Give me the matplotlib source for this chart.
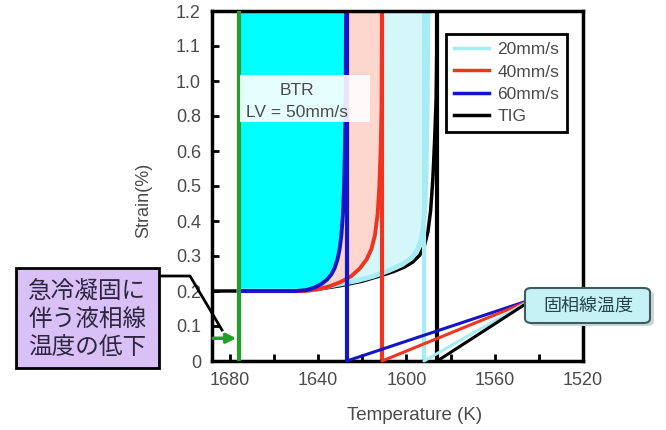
import numpy as np
import matplotlib.pyplot as plt
from matplotlib.patches import Rectangle, FancyBboxPatch
from matplotlib.lines import Line2D

plt.rcParams['font.family'] = ['Liberation Sans', 'Noto Sans CJK JP']

# strain curves: temperature (K) vs strain (%)
t_60 = [1676, 1650, 1645, 1641.5, 1638.5, 1636, 1634, 1632.5, 1631.2, 1630.2, 1629.4,
        1628.7, 1628.2, 1627.8, 1627.5, 1627.3]
s_60 = [0.2, 0.2, 0.203, 0.21, 0.22, 0.232, 0.247, 0.265, 0.29, 0.32, 0.36,
        0.42, 0.5, 0.62, 0.85, 1.2]
t_40 = [1676, 1646, 1640, 1635, 1630, 1625, 1621, 1618, 1615.8, 1614.2, 1613,
        1612.2, 1611.6, 1611.2, 1611]
s_40 = [0.2, 0.2, 0.205, 0.213, 0.225, 0.242, 0.265, 0.29, 0.32, 0.36, 0.42,
        0.5, 0.62, 0.85, 1.2]
t_20 = [1676, 1645, 1638, 1630, 1622, 1615, 1608, 1602, 1597.5, 1594.8, 1593.2,
        1592.2, 1591.5, 1591, 1590.6, 1590.2]
s_20 = [0.2, 0.2, 0.21, 0.22, 0.23, 0.242, 0.258, 0.275, 0.295, 0.32, 0.35,
        0.39, 0.45, 0.55, 0.8, 1.2]
t_tig = [1688, 1645, 1630, 1620, 1612, 1606, 1601, 1597, 1594, 1591.8, 1590.2,
         1589, 1588, 1587.2, 1586.5, 1586]
s_tig = [0.2, 0.2, 0.215, 0.228, 0.243, 0.255, 0.268, 0.283, 0.302, 0.33, 0.37,
         0.43, 0.52, 0.66, 0.9, 1.2]

# solidus temperatures (60, 40, 20 mm/s, TIG) and lowered liquidus
solidus = [1627, 1611, 1592, 1586]
liquidus = 1676

labels = ['20mm/s', '40mm/s', '60mm/s', 'TIG']
x_ticks = [1680, 1640, 1600, 1560, 1520]
y_ticks = [0, 0.1, 0.2, 0.3, 0.4, 0.5, 0.6, 0.8, 1.0, 1.1, 1.2]
y_ticklabels = ['0', '0.1', '0.2', '0.3', '0.4', '0.5', '0.6', '0.8', '1.0', '1.1', '1.2']

c20, c40, c60, ctig = '#a6ecf4', '#f0341f', '#1414c8', 'black'
green = '#22a02a'
grey = '#4a4a4a'

fig = plt.figure(figsize=(6.66, 4.30), dpi=100)
ax = fig.add_axes([212 / 666, 1 - 361 / 430, 371 / 666, 350 / 430])

# the strain axis is evenly spaced over its tick values
idx = np.arange(len(y_ticks))
ax.set_yscale('function', functions=(lambda v: np.interp(v, y_ticks, idx),
                                     lambda v: np.interp(v, idx, y_ticks)))
ax.set_ylim(0, 1.2)
ax.set_xlim(1688, 1520)

# BTR regions
ax.fill_between(t_20, s_20, 1.2, color='#d6f7f9', lw=0, zorder=1)
ax.fill_between(t_40, s_40, 1.2, color='#fdd6cd', lw=0, zorder=1.1)
ax.fill_between(t_60, s_60, 1.2, color='#00ffff', lw=0, zorder=1.2)

ax.plot(t_tig, s_tig, color=ctig, lw=2.5, zorder=2)
ax.plot(t_20, s_20, color=c20, lw=3.5, zorder=2.1)
ax.plot(t_40, s_40, color=c40, lw=2.8, zorder=2.2)
ax.plot(t_60, s_60, color=c60, lw=2.8, zorder=2.3)

for t, c in zip(solidus, [c60, c40, c20, ctig]):
    ax.vlines(t, 0, 1.2, color=c, lw=3, zorder=2.5)
ax.vlines(liquidus, 0, 1.2, color=green, lw=3, zorder=3)

# BTR label
ax.add_patch(Rectangle((0.075, 0.683), 0.35, 0.134, transform=ax.transAxes,
                       facecolor='white', edgecolor='none', alpha=0.9, zorder=4))
ax.text(0.229, 0.774, 'BTR', transform=ax.transAxes, ha='center', va='center',
        fontsize=12.5, color=grey, zorder=5)
ax.text(0.229, 0.711, 'LV = 50mm/s', transform=ax.transAxes, ha='center', va='center',
        fontsize=12.5, color=grey, zorder=5)

handles = [Line2D([], [], color=c, lw=2.5) for c in [c20, c40, c60, ctig]]
leg = ax.legend(handles, labels, loc='upper right', bbox_to_anchor=(0.957, 0.934),
                borderaxespad=0, fontsize=12.5, frameon=True, fancybox=False,
                framealpha=1, edgecolor='black', handlelength=2.0, handletextpad=0.5,
                borderpad=0.45, labelspacing=0.42, labelcolor=grey)
leg.get_frame().set_linewidth(2)
leg.set_zorder(6)

ax.set_xticks(x_ticks)
ax.set_xticks([1660, 1620, 1580, 1540], minor=True)
ax.set_yticks(y_ticks)
ax.set_yticklabels(y_ticklabels)
ax.yaxis.set_minor_locator(plt.NullLocator())
ax.tick_params(which='both', direction='in', length=5, width=2, labelsize=13,
               labelcolor=grey, pad=8)
for s in ax.spines.values():
    s.set_linewidth(2.5)

ax.set_xlabel('Temperature (K)', fontsize=13.5, color=grey)
ax.xaxis.set_label_coords(0.545, -0.13)
ax.set_ylabel('Strain(%)', fontsize=13, color=grey)
ax.yaxis.set_label_coords(-0.162, 0.46)

# green arrow onto the lowered liquidus
ax.annotate('', xy=(liquidus + 1, 0.065), xytext=(1687.5, 0.065),
            arrowprops=dict(arrowstyle='-|>', color=green, lw=2.5, mutation_scale=14,
                            shrinkA=0, shrinkB=0), annotation_clip=False, zorder=7)

# lavender callout box
W, H = 666, 430
fig.patches.append(Rectangle((16 / W, 1 - 368 / H), 143 / W, 100 / H, transform=fig.transFigure,
                             facecolor='#d9c0f6', edgecolor='black', lw=2))
fig.text(87.5 / W, 1 - 320 / H, '急冷凝固に\n伴う液相線\n温度の低下', ha='center', va='center',
         fontsize=17, color='#2e2540', linespacing=1.25, family=['Noto Sans CJK JP'])
fig.lines.append(Line2D([162 / W, 190 / W, 222 / W], [1 - 276 / H, 1 - 276 / H, 1 - 330 / H],
                        transform=fig.transFigure, color='black', lw=2))

# solidus callout
for i, (t, c) in enumerate(zip(solidus, [c60, c40, c20, ctig])):
    ax.annotate('', xy=(t, 0), xytext=(524, 128 - i), textcoords='figure pixels',
                arrowprops=dict(arrowstyle='-', color=c, lw=2.2, shrinkA=0, shrinkB=0),
                annotation_clip=False, zorder=8)
fig.patches.append(FancyBboxPatch((529 / W, 1 - 326 / H), 125 / W, 35 / H,
                                  boxstyle='round,pad=0,rounding_size=0.01',
                                  transform=fig.transFigure, facecolor='#cfd6d8',
                                  edgecolor='none', zorder=9))
fig.patches.append(FancyBboxPatch((525 / W, 1 - 323 / H), 125 / W, 35 / H,
                                  boxstyle='round,pad=0,rounding_size=0.01',
                                  transform=fig.transFigure, facecolor='#c6f2f6',
                                  edgecolor='#3c5c60', lw=1.5, zorder=10))
fig.text(588 / W, 1 - 306 / H, '固相線温度', ha='center', va='center', fontsize=13,
         color='#26464c', family=['Noto Sans CJK JP'], zorder=11)

fig.savefig('out.png', dpi=100)
